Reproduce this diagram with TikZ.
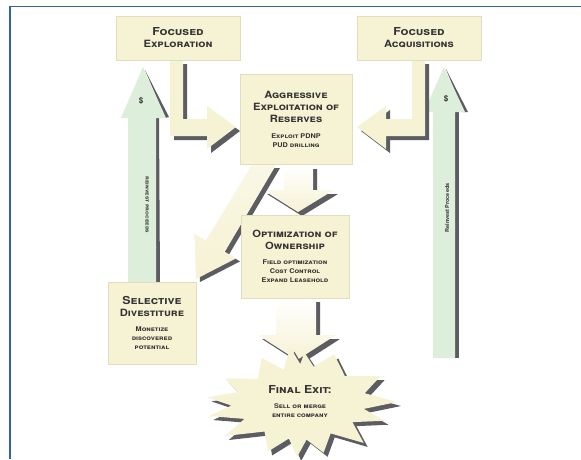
\documentclass[tikz,border=0pt]{standalone}
\usepackage{fontspec}
\setmainfont{TeX Gyre Heros}
\newfontfamily\hsc[Letters=SmallCaps,FakeStretch=1.12]{TeX Gyre Heros}
\usetikzlibrary{backgrounds}
\definecolor{cream}{HTML}{F6F2D4}
\definecolor{creamedge}{HTML}{E2DDBF}
\definecolor{shad}{HTML}{5C5C62}
\definecolor{grn}{HTML}{DDEEDA}
\definecolor{framec}{HTML}{2F62A6}
\definecolor{txt}{HTML}{333333}
\tikzset{
  box/.style={rectangle, fill=cream, draw=creamedge, line width=0.6pt, align=center,
    text=txt, font=\hsc\bfseries, inner sep=0pt},
  fatarrow/.style={fill=cream, draw=none},
  fatshadow/.style={fill=shad, draw=none},
  greenarrow/.style={fill=grn, draw=none},
  ttl/.style={font=\fontsize{11}{15}\hsc\bfseries},
}
\newcommand{\sub}{\fontsize{6.5}{10}\selectfont}
\begin{document}
\begin{tikzpicture}[x=1pt,y=-1pt]
\path[use as bounding box] (0,0) rectangle (581,459);
\fill[white] (0,0) rectangle (581,459);
% frame
\draw[framec, line width=1.8pt] (10,459) -- (10,6.5) -- (581,6.5);

% ---------- green up arrows ----------
\fill[fatshadow] (159,118) -- (160,283) -- (155,283) -- (155,118) -- cycle;
\fill[fatshadow] (145,70) -- (169,117) -- (165,118) -- cycle;
\fill[greenarrow] (128,283) -- (128,118) -- (121,118) -- (143,67) -- (166,118) -- (156,118) -- (156,283) -- cycle;
\node[rotate=-90, font=\fontsize{5.5}{6}\hsc\bfseries, text=txt] (rpL) at (147,205) {reinvest proceeds};
\node[font=\fontsize{8}{8}\selectfont\bfseries, text=txt] (dL) at (141,101) {\$};

\fill[fatshadow] (455,112) -- (459,112) -- (459,358) -- (455,358) -- cycle;
\fill[fatshadow] (446,69) -- (468,112) -- (463,112) -- cycle;
\fill[greenarrow] (433,358) -- (433,112) -- (424,112) -- (444,67) -- (465,112) -- (455,112) -- (455,358) -- cycle;
\node[rotate=90, font=\fontsize{5.5}{6}\selectfont\bfseries, text=txt] (rpR) at (447,208) {Reinvest Proceeds};
\node[font=\fontsize{8}{8}\selectfont\bfseries, text=txt] (dR) at (446,99) {\$};

% ---------- L arrow from Focused Exploration ----------
\begin{scope}[shift={(4,4)}]
\fill[fatshadow] (170,60) -- (170,136) -- (207,136) -- (207,149) -- (236,127) -- (207,106) -- (207,119) -- (183,119) -- (183,60) -- cycle;
\end{scope}
\fill[fatarrow] (170,60) -- (170,136) -- (207,136) -- (207,149) -- (236,127) -- (207,106) -- (207,119) -- (183,119) -- (183,60) -- cycle;

% ---------- L arrow from Focused Acquisitions ----------
\begin{scope}[shift={(4,4)}]
\fill[fatshadow] (425,60) -- (425,136) -- (386,136) -- (386,149) -- (357,127) -- (386,106) -- (386,119) -- (412,119) -- (412,60) -- cycle;
\end{scope}
\fill[fatarrow] (425,60) -- (425,136) -- (386,136) -- (386,149) -- (357,127) -- (386,106) -- (386,119) -- (412,119) -- (412,60) -- cycle;

% ---------- down arrow Aggressive -> Optimization ----------
\begin{scope}[shift={(4,4)}]
\fill[fatshadow] (284,165) -- (284,190) -- (263,190) -- (298,212) -- (334,190) -- (313,190) -- (313,165) -- cycle;
\end{scope}
\shade[top color=white, bottom color=cream] (284,165) -- (284,190) -- (263,190) -- (298,212) -- (334,190) -- (313,190) -- (313,165) -- cycle;

% ---------- down arrow Optimization -> Final Exit ----------
\begin{scope}[shift={(4,4)}]
\fill[fatshadow] (276,298) -- (276,335) -- (258,335) -- (297,360) -- (336,335) -- (316,335) -- (316,298) -- cycle;
\end{scope}
\shade[top color=white, bottom color=cream] (276,298) -- (276,335) -- (258,335) -- (297,360) -- (336,335) -- (316,335) -- (316,298) -- cycle;

% ---------- diagonal arrow Aggressive -> Selective Divestiture ----------
\begin{scope}[shift={(4,3)}]
\fill[fatshadow] (252,165) -- (205.8,240.6) -- (194.6,234) -- (196,279) -- (236,258.4) -- (224.8,251.8) -- (276,165) -- cycle;
\end{scope}
\shade[top color=cream!60, bottom color=cream] (252,165) -- (205.8,240.6) -- (194.6,234) -- (196,279) -- (236,258.4) -- (224.8,251.8) -- (276,165) -- cycle;

% ---------- boxes ----------
\node[box, minimum width=124pt, minimum height=44pt] (fe) at (178,38)
  {\fontsize{11}{16}\selectfont Focused\\Exploration};
\node[box, minimum width=124pt, minimum height=44pt] (fa) at (419,38)
  {\fontsize{11}{16}\selectfont Focused\\Acquisitions};
\node[box, minimum width=112pt, minimum height=90pt] (ag) at (296,119)
  {\fontsize{10}{15}\selectfont Aggressive\\Exploitation of\\Reserves\\[4pt]
   \sub Exploit PDNP\\[-3pt]\sub PUD drilling};
\node[box, minimum width=108pt, minimum height=83pt] (op) at (295,256.5)
  {\fontsize{10}{16}\selectfont Optimization of\\Ownership\\[3pt]
   \sub Field optimization\\[-3pt]\sub Cost Control\\[-3pt]\sub Expand Leasehold};
\node[box, minimum width=88pt, minimum height=82pt] (sd) at (152,323)
  {\fontsize{11}{15}\selectfont Selective\\Divestiture\\[3pt]
   \sub Monetize\\[-3pt]\sub discovered\\[-3pt]\sub potential};

% ---------- star ----------
\begin{scope}[shift={(301,402)}]
\begin{scope}[shift={(4,4)}]
\fill[fatshadow] (0:96 and 52) -- (11:64 and 36) -- (22:90 and 50) -- (34:62 and 36) -- (47:92 and 56) -- (58:56 and 37) -- (70:66 and 54) -- (82:40 and 38) -- (95:44 and 55) -- (106:44 and 38) -- (118:70 and 56) -- (129:58 and 38) -- (141:98 and 54) -- (152:64 and 36) -- (163:96 and 48) -- (174:70 and 34) -- (186:94 and 44) -- (197:66 and 34) -- (208:86 and 50) -- (220:56 and 36) -- (232:64 and 56) -- (244:40 and 36) -- (256:44 and 56) -- (268:22 and 38) -- (280:20 and 50) -- (292:34 and 38) -- (305:58 and 58) -- (317:60 and 38) -- (330:92 and 52) -- (345:66 and 34) -- cycle;
\end{scope}
\fill[cream] (0:96 and 52) -- (11:64 and 36) -- (22:90 and 50) -- (34:62 and 36) -- (47:92 and 56) -- (58:56 and 37) -- (70:66 and 54) -- (82:40 and 38) -- (95:44 and 55) -- (106:44 and 38) -- (118:70 and 56) -- (129:58 and 38) -- (141:98 and 54) -- (152:64 and 36) -- (163:96 and 48) -- (174:70 and 34) -- (186:94 and 44) -- (197:66 and 34) -- (208:86 and 50) -- (220:56 and 36) -- (232:64 and 56) -- (244:40 and 36) -- (256:44 and 56) -- (268:22 and 38) -- (280:20 and 50) -- (292:34 and 38) -- (305:58 and 58) -- (317:60 and 38) -- (330:92 and 52) -- (345:66 and 34) -- cycle;
\end{scope}
\node[align=center, text=txt, font=\hsc\bfseries] (fx) at (300,402)
  {\fontsize{11}{14}\selectfont Final Exit:\\[3pt]\sub Sell or merge\\[-3pt]\sub entire company};
\end{tikzpicture}
\end{document}
